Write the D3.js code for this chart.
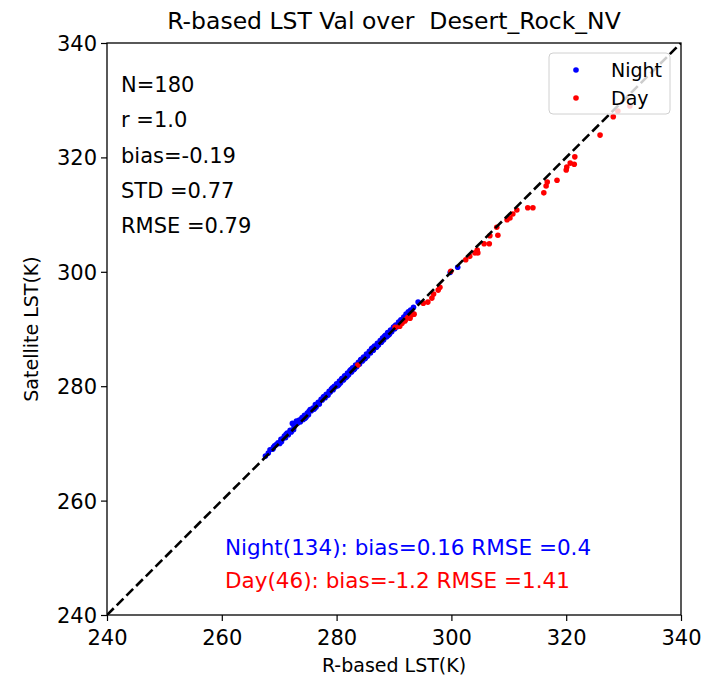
<!DOCTYPE html>
<html>
<head>
<meta charset="utf-8">
<script src="https://cdn.jsdelivr.net/npm/d3@7"></script>
<style>
  html, body { margin: 0; padding: 0; background: #fff; }
  svg { display: block; font-family: "DejaVu Sans", sans-serif; }
  text { white-space: pre; }
</style>
</head>
<body>
<svg id="chart" width="707" height="684"></svg>
<script>
// Axis ticks
const tickValues = [240, 260, 280, 300, 320, 340];

// Night overpasses: R-based LST (x) vs satellite LST (y)
const nightX = [
  267.6, 268.1, 268.4, 268.9, 269.2, 269.5, 269.8, 270.1, 270.3, 270.6, 270.9, 271.1, 271.4, 271.6, 271.9,
  272.1, 272.3, 272.6, 272.8, 273.0, 273.3, 273.5, 273.7, 274.0, 274.2, 274.4, 274.7, 274.9, 275.1, 275.4, 275.6, 275.9,
  276.1, 276.3, 276.6, 276.8, 277.0, 277.3, 277.5, 277.7, 278.0, 278.2, 278.4, 278.7, 278.9, 279.1, 279.4, 279.6, 279.8,
  280.0, 280.2, 280.5, 280.7, 280.9, 281.2, 281.4, 281.6, 281.9, 282.1, 282.3, 282.6, 282.8, 283.0, 283.3, 283.5, 283.8,
  284.0, 284.2, 284.5, 284.7, 284.9, 285.2, 285.4, 285.7, 285.9, 286.1, 286.4, 286.6, 286.9, 287.1, 287.3, 287.6, 287.8,
  288.0, 288.2, 288.5, 288.7, 288.9, 289.2, 289.4, 289.6, 289.9, 290.1, 290.3, 290.5, 290.8, 291.0, 291.2, 291.5, 291.7, 291.9,
  292.1, 292.3, 292.5, 292.7, 292.9, 293.1, 293.4,
  269.0, 270.4, 271.2, 272.5, 273.9, 274.5, 275.2, 276.4, 277.8, 278.5, 279.3, 280.4, 281.0, 281.8, 282.5, 283.1,
  284.3, 285.0, 286.3, 287.0, 288.3, 289.0, 290.0,
  294.2, 299.8, 301.1
];
const nightY = [
  267.8, 268.3, 268.9, 269.0, 269.6, 269.8, 270.1, 270.0, 270.7, 270.8, 271.3, 271.0, 271.8, 271.5, 272.3,
  272.0, 273.5, 272.9, 273.4, 273.9, 273.6, 274.1, 273.8, 274.5, 274.2, 274.9, 274.6, 275.3, 275.0, 275.9, 275.7, 276.2,
  276.0, 276.8, 276.7, 277.2, 276.9, 277.7, 277.6, 278.1, 278.0, 278.6, 278.5, 279.1, 279.0, 279.5, 279.4, 280.0, 279.9,
  280.4, 280.1, 280.9, 280.6, 281.3, 281.1, 281.8, 281.5, 282.3, 282.0, 282.7, 282.5, 283.2, 282.9, 283.7, 283.4, 284.2,
  283.9, 284.6, 284.4, 285.1, 284.8, 285.6, 285.3, 286.1, 285.8, 286.6, 286.3, 287.0, 286.8, 287.5, 287.2, 288.0, 287.7,
  288.4, 288.1, 288.9, 288.6, 289.4, 289.1, 289.8, 289.5, 290.3, 290.0, 290.7, 290.4, 291.2, 290.9, 291.6, 291.4, 292.1, 291.8,
  292.6, 292.2, 293.0, 292.5, 293.3, 292.9, 293.8,
  269.3, 270.3, 271.6, 272.4, 274.3, 274.4, 275.6, 276.3, 278.2, 278.4, 279.7, 280.3, 281.4, 281.7, 282.9, 283.0,
  284.7, 284.9, 286.7, 286.9, 288.7, 288.9, 290.4,
  294.7, 299.9, 300.8
];

// Day overpasses
const dayX = [
  283.7, 290.2, 291.0, 291.4, 291.9, 292.4, 292.8, 293.1, 293.5, 295.1, 295.9, 296.6, 296.9, 297.7, 298.0,
  299.9, 302.5, 303.2, 304.1, 304.6, 304.5, 305.7, 306.6, 306.7, 308.1, 307.9, 309.7, 310.2, 310.7, 311.4,
  313.3, 314.2, 316.1, 316.5, 316.7, 318.4, 320.0, 320.1, 320.7, 321.4, 321.5, 325.9, 328.2, 329.0, 331.1, 292.0
];
const dayY = [
  283.7, 290.3, 290.5, 291.0, 291.4, 292.0, 291.9, 292.5, 292.6, 294.5, 294.7, 295.4, 296.1, 296.8, 297.3,
  300.1, 302.1, 302.7, 303.3, 303.3, 303.8, 304.9, 304.9, 306.3, 306.4, 307.8, 309.1, 309.4, 310.1, 310.8,
  311.2, 311.2, 313.8, 315.0, 315.7, 316.0, 317.8, 318.3, 319.0, 318.8, 320.1, 323.9, 327.1, 328.1, 329.0, 291.6
];

// Summary statistics
const statsLines = ["N=180", "r =1.0", "bias=-0.19", "STD =0.77", "RMSE =0.79"];
const groupLines = [
  { text: "Night(134): bias=0.16 RMSE =0.4", color: "#0000ff" },
  { text: "Day(46): bias=-1.2 RMSE =1.41", color: "#ff0000" }
];
const legendItems = [
  { label: "Night", color: "#0000ff" },
  { label: "Day", color: "#ff0000" }
];
const titleText = "R-based LST Val over  Desert_Rock_NV";
const xLabel = "R-based LST(K)";
const yLabel = "Satellite LST(K)";
const domain = [240, 340];

const svg = d3.select("#chart");
const margin = { left: 107, right: 26, top: 43, bottom: 69 };
const W = 707, H = 684;
const x = d3.scaleLinear().domain(domain).range([margin.left, W - margin.right]);
const y = d3.scaleLinear().domain(domain).range([H - margin.bottom, margin.top]);

// clip for plotted marks
svg.append("defs").append("clipPath").attr("id", "plotclip")
  .append("rect")
  .attr("x", margin.left).attr("y", margin.top)
  .attr("width", x(domain[1]) - x(domain[0]))
  .attr("height", y(domain[0]) - y(domain[1]));

const plot = svg.append("g").attr("clip-path", "url(#plotclip)");

const nightPts = nightX.map((v, i) => [v, nightY[i]]);
const dayPts = dayX.map((v, i) => [v, dayY[i]]);

plot.selectAll("circle.night").data(nightPts).enter().append("circle")
  .attr("class", "night")
  .attr("cx", d => x(d[0])).attr("cy", d => y(d[1]))
  .attr("r", 2.8).attr("fill", "#0000ff");

plot.selectAll("circle.day").data(dayPts).enter().append("circle")
  .attr("class", "day")
  .attr("cx", d => x(d[0])).attr("cy", d => y(d[1]))
  .attr("r", 2.8).attr("fill", "#ff0000");

// 1:1 reference line
plot.append("line")
  .attr("x1", x(domain[0])).attr("y1", y(domain[0]))
  .attr("x2", x(domain[1])).attr("y2", y(domain[1]))
  .attr("stroke", "#000").attr("stroke-width", 2.6)
  .attr("stroke-dasharray", "9.5,4.2");

// Axes
const xAxis = d3.axisBottom(x).tickValues(tickValues).tickSize(6).tickPadding(4).tickFormat(d3.format("d"));
const yAxis = d3.axisLeft(y).tickValues(tickValues).tickSize(6).tickPadding(4).tickFormat(d3.format("d"));

const gx = svg.append("g").attr("transform", `translate(0,${y(domain[0])})`).call(xAxis);
const gy = svg.append("g").attr("transform", `translate(${x(domain[0])},0)`).call(yAxis);
[gx, gy].forEach(g => {
  g.select(".domain").remove();
  g.selectAll(".tick line").attr("stroke", "#000").attr("stroke-width", 1.2);
  g.selectAll(".tick text").attr("fill", "#000").style("font-size", "21px")
    .style("font-family", "'DejaVu Sans', sans-serif");
});
gx.selectAll(".tick text").attr("dy", "0.95em");
gy.selectAll(".tick text").attr("dy", "0.36em");

// Frame
svg.append("rect")
  .attr("x", x(domain[0])).attr("y", y(domain[1]))
  .attr("width", x(domain[1]) - x(domain[0]))
  .attr("height", y(domain[0]) - y(domain[1]))
  .attr("fill", "none").attr("stroke", "#000").attr("stroke-width", 1.3);

// Title and axis labels
svg.append("text").attr("x", (x(domain[0]) + x(domain[1])) / 2).attr("y", 29)
  .attr("text-anchor", "middle").style("font-size", "23.5px").attr("fill", "#000")
  .text(titleText);
svg.append("text").attr("x", (x(domain[0]) + x(domain[1])) / 2).attr("y", 672)
  .attr("text-anchor", "middle").style("font-size", "19px").attr("fill", "#000")
  .text(xLabel);
svg.append("text")
  .attr("transform", `translate(38,${(y(domain[0]) + y(domain[1])) / 2}) rotate(-90)`)
  .attr("text-anchor", "middle").style("font-size", "19px").attr("fill", "#000")
  .text(yLabel);

// Statistics block
svg.append("g").selectAll("text").data(statsLines).enter().append("text")
  .attr("x", 121).attr("y", (d, i) => 92 + i * 35.3)
  .style("font-size", "21px").attr("fill", "#000")
  .text(d => d);

svg.append("g").selectAll("text").data(groupLines).enter().append("text")
  .attr("x", 225).attr("y", (d, i) => 555 + i * 33)
  .style("font-size", "21.5px").attr("fill", d => d.color)
  .text(d => d.text);

// Legend
const lg = svg.append("g");
lg.append("rect").attr("x", 549).attr("y", 53).attr("width", 121).attr("height", 61)
  .attr("rx", 4).attr("fill", "#fff").attr("fill-opacity", 0.8)
  .attr("stroke", "#d0d0d0").attr("stroke-width", 1);
legendItems.forEach((it, i) => {
  lg.append("circle").attr("cx", 576).attr("cy", 70 + i * 28).attr("r", 2.8).attr("fill", it.color);
  lg.append("text").attr("x", 611).attr("y", 70 + i * 28).attr("dy", "0.36em")
    .style("font-size", "19px").attr("fill", "#000").text(it.label);
});
</script>
</body>
</html>
